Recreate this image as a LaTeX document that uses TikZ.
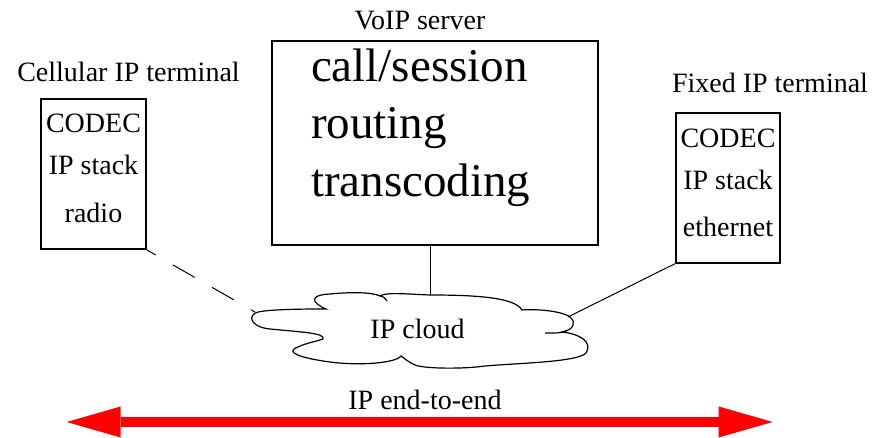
\documentclass[tikz,border=0pt]{standalone}
\usepackage{fontspec}
\setmainfont{Liberation Serif}
\usetikzlibrary{arrows.meta,positioning}
\tikzset{x=1pt, y=-1pt,
  termbox/.style={draw, line width=2pt, inner sep=0pt, align=center,
    minimum width=105pt, minimum height=150pt,
    font=\fontsize{28}{42}\selectfont, text height=98pt, text depth=0pt},
  srvbox/.style={draw, line width=2pt, inner sep=0pt, align=left, text width=248pt,
    minimum width=326pt, minimum height=204pt,
    font=\fontsize{47}{57.5}\selectfont, text height=35pt, text depth=158pt},
  lbl/.style={anchor=base, inner sep=0pt, font=\fontsize{28}{34}\selectfont},
  link/.style={line width=1pt},
  cloudline/.style={line width=1.2pt},
  tip/.tip={Triangle[length=54pt, width=31pt, line width=0pt]},
  e2e/.style={red, line width=10pt, tip-tip}}

\begin{document}
\begin{tikzpicture}
                \useasboundingbox (0,0) rectangle (873,438);
                \node (cell)   [termbox] at (93.5,174)   {CODEC\\IP stack\\[6pt]radio};
                \node (fixed)  [termbox, minimum width=104pt] at (728,187.7) {CODEC\\IP stack\\[5pt]ethernet};
                \node (server) [srvbox]  at (435,143)    {call/session\\routing\\transcoding};
                \node (celllbl)   [lbl] at (128.5,81.7) {Cellular IP terminal};
                \node (fixedlbl)  [lbl] at (770,92.7)   {Fixed IP terminal};
                \node (serverlbl) [lbl] at (420,30)     {VoIP server};
                \draw[cloudline]
                  (326,309) .. controls (312,303) and (308,295) .. (330,294)
                  .. controls (350,292) and (372,292) .. (380,296)
                  .. controls (386,292) and (405,294) .. (430,295)
                  .. controls (480,295) and (515,298) .. (522,310)
                  .. controls (532,309) and (560,310) .. (570,317)
                  .. controls (577,323) and (573,330) .. (562,332)
                  .. controls (580,334) and (593,342) .. (586,353)
                  .. controls (578,362) and (520,363) .. (485,366)
                  .. controls (465,369) and (425,369) .. (415,365)
                  .. controls (408,362) and (404,358) .. (401,356)
                  .. controls (396,363) and (360,366) .. (330,362)
                  .. controls (300,358) and (284,352) .. (298,347)
                  .. controls (306,343) and (318,341) .. (323,339)
                  .. controls (326,333) and (300,332) .. (270,329)
                  .. controls (250,327) and (247,315) .. (258,312)
                  .. controls (272,309) and (310,309) .. cycle;
                \draw[cloudline] (380,296) .. controls (384,297) .. (387,301);
                \draw[cloudline] (566,331) .. controls (560,333) .. (545,333);
                \node (cloud) [lbl] at (417.5,338.3) {IP cloud};
                \coordinate (cloudW) at (255,312);
                \coordinate (cloudN) at (430,295);
                \coordinate (cloudE) at (568,317);
                \draw[link, dash pattern=on 25pt off 20pt, dash phase=15pt] (cell.south east) -- (cloudW);
                \draw[link] (fixed.south west) -- (cloudE);
                \draw[link] (cloudN |- server.south) -- (cloudN);
                \coordinate (e2eL) at (66.7,422);
                \coordinate (e2eR) at (772.7,422);
                \draw[e2e] (e2eL) -- (e2eR);
                \node (e2e) [lbl] at (425,409.3) {IP end-to-end};
              \end{tikzpicture}
\end{document}
